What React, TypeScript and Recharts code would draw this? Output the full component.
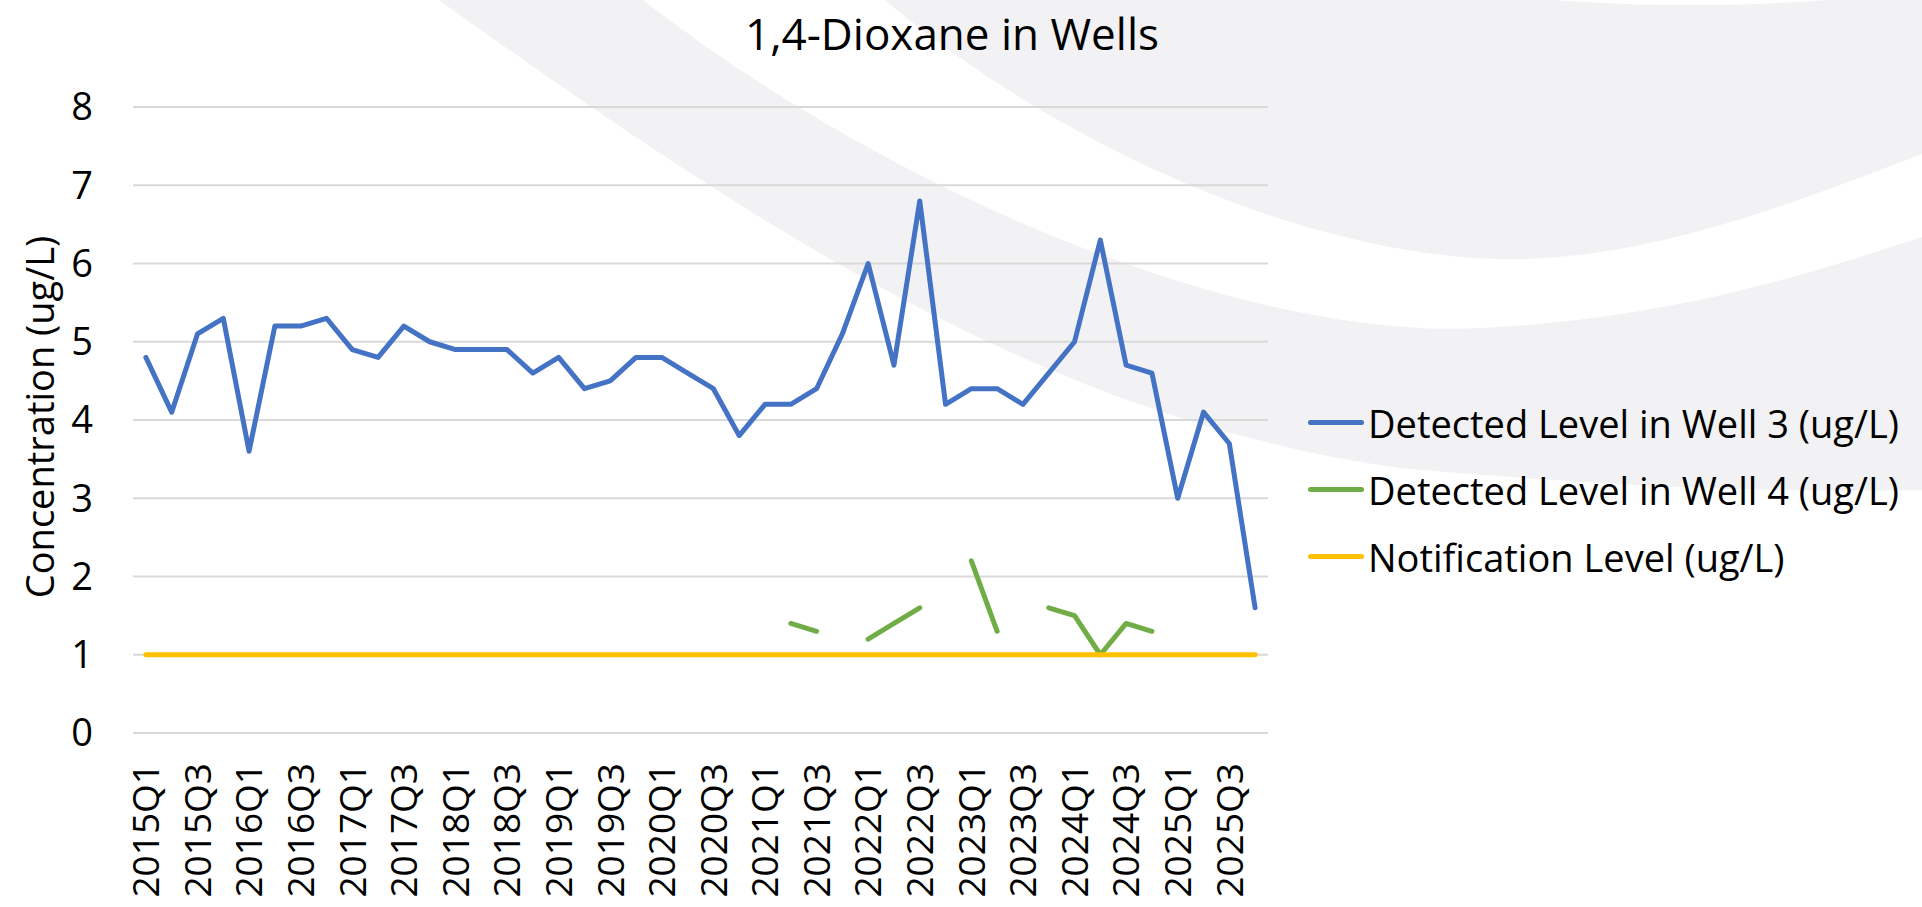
import { LineChart, Line, XAxis, YAxis, CartesianGrid, Legend } from "recharts";

const FONT = "'Open Sans', 'Noto Sans', sans-serif";

const quarters = [
  "2015Q1", "2015Q2", "2015Q3", "2015Q4",
  "2016Q1", "2016Q2", "2016Q3", "2016Q4",
  "2017Q1", "2017Q2", "2017Q3", "2017Q4",
  "2018Q1", "2018Q2", "2018Q3", "2018Q4",
  "2019Q1", "2019Q2", "2019Q3", "2019Q4",
  "2020Q1", "2020Q2", "2020Q3", "2020Q4",
  "2021Q1", "2021Q2", "2021Q3", "2021Q4",
  "2022Q1", "2022Q2", "2022Q3", "2022Q4",
  "2023Q1", "2023Q2", "2023Q3", "2023Q4",
  "2024Q1", "2024Q2", "2024Q3", "2024Q4",
  "2025Q1", "2025Q2", "2025Q3", "2025Q4",
];

const well3 = [
  4.8, 4.1, 5.1, 5.3,
  3.6, 5.2, 5.2, 5.3,
  4.9, 4.8, 5.2, 5.0,
  4.9, 4.9, 4.9, 4.6,
  4.8, 4.4, 4.5, 4.8,
  4.8, 4.6, 4.4, 3.8,
  4.2, 4.2, 4.4, 5.1,
  6.0, 4.7, 6.8, 4.2,
  4.4, 4.4, 4.2, 4.6,
  5.0, 6.3, 4.7, 4.6,
  3.0, 4.1, 3.7, 1.6,
];

// gaps where well 4 was not detected
const well4 = [
  null, null, null, null,
  null, null, null, null,
  null, null, null, null,
  null, null, null, null,
  null, null, null, null,
  null, null, null, null,
  null, 1.4, 1.3, null,
  1.2, 1.4, 1.6, null,
  2.2, 1.3, null, 1.6,
  1.5, 1.0, 1.4, 1.3,
  null, null, null, null,
];

const notification = [
  1, 1, 1, 1, 1, 1, 1, 1, 1, 1, 1,
  1, 1, 1, 1, 1, 1, 1, 1, 1, 1, 1,
  1, 1, 1, 1, 1, 1, 1, 1, 1, 1, 1,
  1, 1, 1, 1, 1, 1, 1, 1, 1, 1, 1,
];

const yTicks = [0, 1, 2, 3, 4, 5, 6, 7, 8];

const series = [
  { key: "well3", name: "Detected Level in Well 3 (ug/L)", color: "#4472C4" },
  { key: "well4", name: "Detected Level in Well 4 (ug/L)", color: "#70AD47" },
  { key: "notif", name: "Notification Level (ug/L)", color: "#FFC000" },
];

const data = quarters.map((q, i) => ({
  q,
  well3: well3[i],
  well4: well4[i],
  notif: notification[i],
}));

function XTick({ x, y, payload }: any) {
  return (
    <g transform={`translate(${x},${y})`}>
      <text
        transform="rotate(-90)"
        x={-22}
        y={0}
        dy="0.36em"
        textAnchor="end"
        fontSize={37}
        fontFamily={FONT}
        fill="#000"
      >
        {payload.value}
      </text>
    </g>
  );
}

function LegendBox() {
  return (
    <div style={{ fontFamily: FONT }}>
      {series.map((s) => (
        <div key={s.key} style={{ display: "flex", alignItems: "center", height: 67 }}>
          <span
            style={{
              display: "inline-block",
              width: 56,
              height: 5,
              borderRadius: 3,
              background: s.color,
            }}
          />
          <span style={{ fontSize: 38, color: "#000", marginLeft: 4, whiteSpace: "nowrap" }}>
            {s.name}
          </span>
        </div>
      ))}
    </div>
  );
}

export default function App() {
  return (
    <div
      style={{
        position: "absolute",
        left: 0,
        top: 0,
        width: 1922,
        height: 907,
        background: "#fff",
        overflow: "hidden",
      }}
    >
      {/* background swoosh + title */}
      <svg width={1922} height={907} style={{ position: "absolute", left: 0, top: 0 }}>
        <path
          d="M 439 0 C 760 230, 1050 420, 1400 468 Q 1700 495, 1922 490 L 1922 0 Z"
          fill="#f2f2f4"
        />
        <path
          d="M 643 0 C 900 200, 1250 340, 1480 328 C 1680 318, 1820 270, 1922 237 L 1922 154 C 1800 200, 1650 262, 1500 259 C 1300 255, 1050 140, 885 0 Z"
          fill="#fff"
        />
        <ellipse cx={1690} cy={-40} rx={300} ry={45} fill="#fff" />
        <text x={952} y={50} textAnchor="middle" fontSize={44} fontFamily={FONT} fill="#000">
          1,4-Dioxane in Wells
        </text>
      </svg>

      <div style={{ position: "absolute", left: 0, top: 0 }}>
        <LineChart
          width={1922}
          height={907}
          data={data}
          margin={{ top: 107, right: 654, left: 0, bottom: 0 }}
        >
          <CartesianGrid vertical={false} stroke="#d9d9d9" strokeWidth={2} />
          <XAxis
            dataKey="q"
            interval={1}
            height={174}
            axisLine={false}
            tickLine={false}
            padding={{ left: 12.9, right: 12.9 }}
            tick={<XTick />}
          />
          <YAxis
            width={133}
            domain={[0, 8]}
            ticks={yTicks}
            axisLine={false}
            tickLine={false}
            tickMargin={34}
            tick={{ fontSize: 38, fill: "#000", fontFamily: FONT }}
            label={{
              content: () => (
                <text
                  x={54}
                  y={417}
                  transform="rotate(-90 54 417)"
                  textAnchor="middle"
                  fontSize={38}
                  fontFamily={FONT}
                  fill="#000"
                >
                  Concentration (ug/L)
                </text>
              ),
            }}
          />
          {series.map((s) => (
            <Line
              key={s.key}
              type="linear"
              dataKey={s.key}
              name={s.name}
              stroke={s.color}
              strokeWidth={5}
              strokeLinecap="round"
              strokeLinejoin="round"
              dot={false}
              activeDot={false}
              connectNulls={false}
              isAnimationActive={false}
            />
          ))}
          <Legend
            layout="vertical"
            align="center"
            verticalAlign="middle"
            wrapperStyle={{ left: 1308, top: 389, width: 612 }}
            content={() => <LegendBox />}
          />
        </LineChart>
      </div>
    </div>
  );
}
